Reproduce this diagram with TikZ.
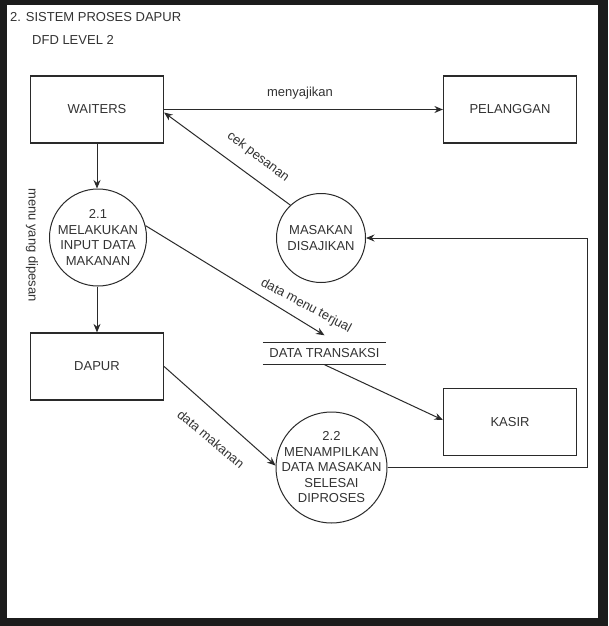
\documentclass[tikz,border=0pt]{standalone}
\usepackage{fontspec}
\setmainfont{Liberation Sans}
\usetikzlibrary{arrows.meta}
\definecolor{frame}{HTML}{1C1C1C}
\definecolor{ink}{HTML}{2A2A2A}
\definecolor{txt}{HTML}{333333}
\tikzset{
  x=1pt,y=-1pt,
  every node/.style={font=\fontsize{13}{15.5}\selectfont, text=txt},
  entity/.style={draw=ink, line width=1.2pt, minimum width=133pt, minimum height=67pt, inner sep=0pt},
  proc/.style={draw=ink, line width=1pt, circle, inner sep=0pt},
  ptext/.style={align=center, inner sep=0pt},
  storebox/.style={minimum width=123pt, minimum height=22pt, inner sep=0pt},
  flow/.style={draw=ink, line width=1pt, -{Stealth[length=8.5pt,width=7pt]}},
  lbl/.style={inner sep=0pt}
}
\begin{document}
\begin{tikzpicture}
\fill[frame] (0,0) rectangle (608,626);
\fill[white] (7,5) rectangle (598,618);
\useasboundingbox (0,0) rectangle (608,626);

\node[anchor=west, lbl] (title) at (10,17) {2. SISTEM PROSES DAPUR};
\node[anchor=west, lbl] (level) at (32,40) {DFD LEVEL 2};

\node[entity] (waiters) at (97,109.5) {WAITERS};
\node[entity] (pelanggan) at (510,109.5) {PELANGGAN};
\node[entity] (dapur) at (97,366.5) {DAPUR};
\node[entity] (kasir) at (510,422) {KASIR};

\node[proc, minimum size=97pt] (p21) at (98,237.5) {};
\node[ptext] (p21t) at (p21) {2.1\\MELAKUKAN\\INPUT DATA\\MAKANAN};
\node[proc, minimum size=89pt] (masakan) at (321,238) {};
\node[ptext] (masakant) at (masakan) {MASAKAN\\DISAJIKAN};
\node[proc, minimum size=111pt] (p22) at (331.5,467.5) {};
\node[ptext] (p22t) at (p22) {2.2\\MENAMPILKAN\\DATA MASAKAN\\SELESAI\\DIPROSES};

\node[storebox] (dt) at (324.5,353.5) {DATA TRANSAKSI};
\draw[ink, line width=1pt] (dt.north west) -- (dt.north east);
\draw[ink, line width=1pt] (dt.south west) -- (dt.south east);

\coordinate (loopx) at (587,0);

\draw[flow] (waiters.east) -- (pelanggan.west);
\draw[flow] (masakan.133) -- ([yshift=-3pt]waiters.east);
\draw[flow] (waiters.south) -- (waiters.south |- p21.north);
\draw[flow] (dapur.north |- p21.south) -- (dapur.north);
\draw[flow] (p21.14) -- ([yshift=7pt]dt.north);
\draw[flow] (dt.south) -- ([yshift=2pt]kasir.west);
\draw[flow] (dapur.east) -- (p22.178);
\draw[flow] (p22.east) -- (p22.east -| loopx) |- (masakan.east);

\node[lbl] (l1) at (300,93) {menyajikan};
\node[lbl, rotate=-37] (l2) at (258,157) {cek pesanan};
\node[lbl, rotate=-90] (l3) at (32,245) {menu yang dipesan};
\node[lbl, rotate=-28] (l4) at (306,306) {data menu terjual};
\node[lbl, rotate=-40] (l5) at (211,439) {data makanan};
\end{tikzpicture}
\end{document}
